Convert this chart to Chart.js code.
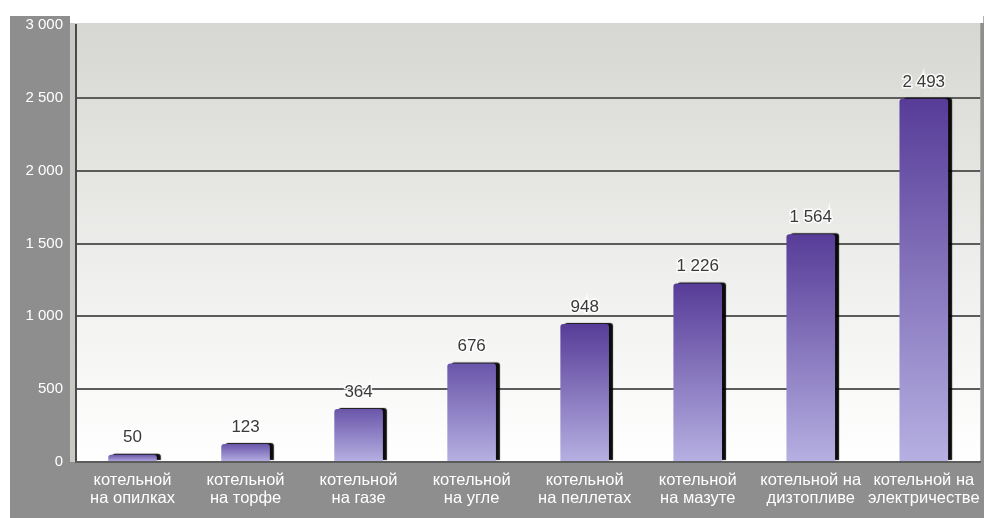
<!DOCTYPE html>
<html>
<head>
<meta charset="utf-8">
<script src="https://cdn.jsdelivr.net/npm/chart.js@4/dist/chart.umd.min.js"></script>
<style>
  html, body { margin: 0; padding: 0; background: #ffffff; }
  #wrap { width: 989px; height: 518px; position: relative; }
</style>
</head>
<body>
<div id="wrap"><canvas id="costChart" width="989" height="518"></canvas></div>
<script>
// категории котельных (две строки подписи)
const categories = [
    ['котельной', 'на опилках'],
    ['котельной', 'на торфе'],
    ['котельной', 'на газе'],
    ['котельной', 'на угле'],
    ['котельной', 'на пеллетах'],
    ['котельной', 'на мазуте'],
    ['котельной на', 'дизтопливе'],
    ['котельной на', 'электричестве']
];
const values = [50, 123, 364, 676, 948, 1226, 1564, 2493];
const yMin = 0;
const yMax = 3000;
const yStep = 500;

function fmt(v) {
    return String(v).replace(/\B(?=(\d{3})+(?!\d))/g, ' ');
}

// серая рамка и фон области построения
const backdrop = {
    id: 'backdrop',
    beforeDraw(chart) {
        const ctx = chart.ctx;
        const a = chart.chartArea;
        ctx.save();
        ctx.fillStyle = '#ffffff';
        ctx.fillRect(0, 0, chart.width, chart.height);
        ctx.fillStyle = '#8e8e8e';
        ctx.fillRect(10, 16, 974, 502);
        ctx.fillStyle = '#ffffff';
        ctx.fillRect(a.left - 6, 16, a.right - a.left + 6 + 3, a.top - 16 - 2);
        const g = ctx.createLinearGradient(0, a.top - 2, 0, a.bottom);
        g.addColorStop(0, '#d6d6d2');
        g.addColorStop(0.55, '#eeeeec');
        g.addColorStop(1, '#ffffff');
        ctx.fillStyle = g;
        ctx.fillRect(a.left - 6, a.top - 2, a.right - a.left + 6, a.bottom - a.top + 2);
        // левая стенка
        ctx.fillStyle = '#c8c8c4';
        ctx.fillRect(a.left - 6, a.top - 2, 5, a.bottom - a.top + 2);
        ctx.restore();
    }
};

// тень справа от столбцов
const barShadow = {
    id: 'barShadow',
    beforeDatasetsDraw(chart) {
        const ctx = chart.ctx;
        ctx.save();
        ctx.shadowColor = 'rgba(0,0,0,0.95)';
        ctx.shadowOffsetX = 4;
        ctx.shadowOffsetY = -1;
        ctx.shadowBlur = 1;
    },
    afterDatasetsDraw(chart) {
        chart.ctx.restore();
        // подписи значений
        const ctx = chart.ctx;
        const meta = chart.getDatasetMeta(0);
        ctx.save();
        ctx.font = '17px "Liberation Sans", Arial, sans-serif';
        ctx.textAlign = 'center';
        ctx.textBaseline = 'middle';
        meta.data.forEach((bar, i) => {
            const txt = fmt(values[i]);
            ctx.lineWidth = 3;
            ctx.strokeStyle = 'rgba(255,255,255,0.85)';
            ctx.strokeText(txt, bar.x, bar.y - 17);
            ctx.fillStyle = '#3a3a3a';
            ctx.fillText(txt, bar.x, bar.y - 17);
        });
        ctx.restore();
    }
};

const ctxCost = document.getElementById('costChart').getContext('2d');
const costChart = new Chart(ctxCost, {
    type: 'bar',
    data: {
        labels: categories,
        datasets: [{
            data: values,
            backgroundColor: function(context) {
                const chart = context.chart;
                if (!chart.chartArea || !chart.scales.y) return '#7a6cc0';
                const y = chart.scales.y;
                const top = y.getPixelForValue(context.raw);
                const base = y.getPixelForValue(0);
                if (!isFinite(top) || base - top < 1) return '#9d94d0';
                const g = chart.ctx.createLinearGradient(0, top, 0, base);
                const k = (base - top) / (chart.chartArea.bottom - chart.chartArea.top);
                g.addColorStop(0, k > 0.3 ? '#573c98' : '#6a56aa');
                g.addColorStop(1, '#b6b0e2');
                return g;
            },
            borderWidth: 0,
            borderRadius: { topLeft: 3, topRight: 3, bottomLeft: 0, bottomRight: 0 },
            borderSkipped: 'start',
            categoryPercentage: 1,
            barPercentage: 0.43
        }]
    },
    options: {
        responsive: false,
        animation: false,
        layout: { padding: { top: 25, right: 7, bottom: 0, left: 0 } },
        plugins: {
            legend: { display: false },
            tooltip: { enabled: false }
        },
        scales: {
            y: {
                min: yMin,
                max: yMax,
                afterFit(scale) { scale.width = 76; },
                ticks: {
                    stepSize: yStep,
                    padding: 13,
                    color: '#ffffff',
                    font: { family: '"Liberation Sans", Arial, sans-serif', size: 15 },
                    callback: (v) => fmt(v)
                },
                grid: {
                    drawTicks: false,
                    lineWidth: 2,
                    color: (c) => c.tick && c.tick.value === yMax ? 'rgba(0,0,0,0)' : '#5c5c5c'
                },
                border: { display: true, color: '#4a4a4a', width: 2 }
            },
            x: {
                afterFit(scale) { scale.height = 56; },
                ticks: {
                    padding: 9,
                    color: '#ffffff',
                    maxRotation: 0,
                    autoSkip: false,
                    font: { family: '"Liberation Sans", Arial, sans-serif', size: 16.5, lineHeight: 1.12 }
                },
                grid: { display: false, drawTicks: false },
                border: { display: true, color: '#5c5c5c', width: 2 }
            }
        }
    },
    plugins: [backdrop, barShadow]
});
</script>
</body>
</html>
